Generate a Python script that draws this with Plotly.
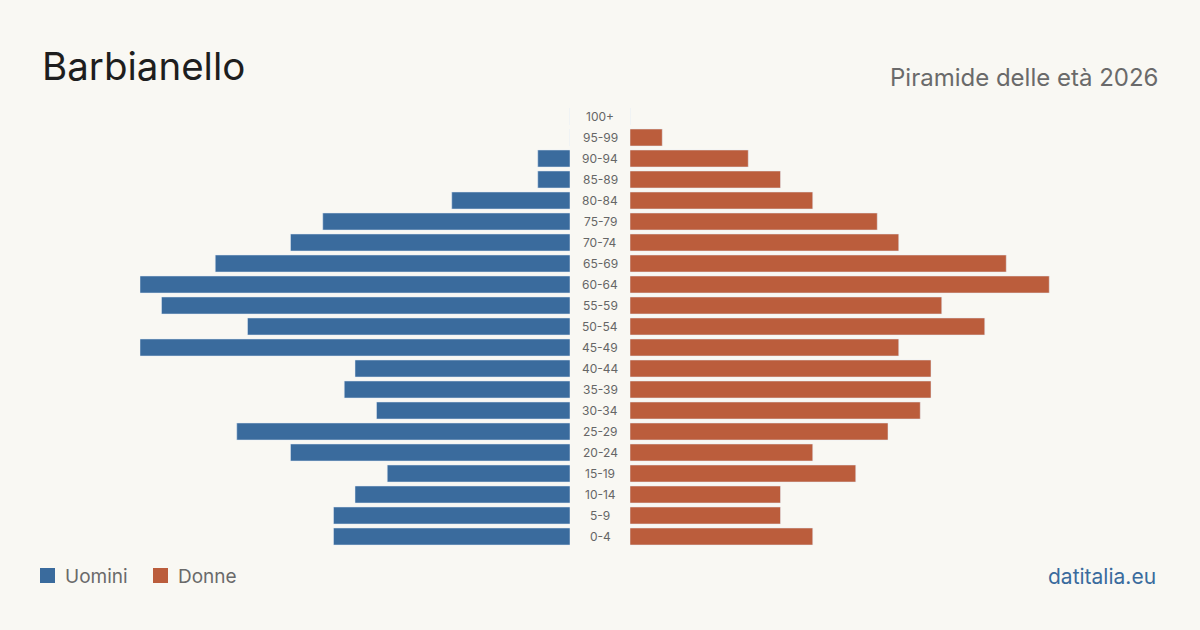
import plotly.graph_objects as go

age_groups = ["0-4", "5-9", "10-14", "15-19", "20-24", "25-29", "30-34", "35-39",
              "40-44", "45-49", "50-54", "55-59", "60-64", "65-69", "70-74",
              "75-79", "80-84", "85-89", "90-94", "95-99", "100+"]
uomini = [22, 22, 20, 17, 26, 31, 18, 21, 20, 40, 30, 38, 40, 33, 26, 23, 11, 3, 3, 0, 0]
donne = [17, 14, 14, 21, 17, 24, 27, 28, 28, 25, 33, 29, 39, 35, 25, 23, 17, 14, 11, 3, 0]

BLUE = "#3a6b9d"
ORANGE = "#bb5d3c"
BG = "#f9f8f3"
FONT = "Inter"

W, H = 1200, 630
xmax = 40

fig = go.Figure()
fig.add_trace(go.Bar(y=age_groups, x=uomini, orientation="h", marker_color=BLUE,
                     xaxis="x", yaxis="y", name="Uomini", showlegend=False,
                     hoverinfo="x+y"))
fig.add_trace(go.Bar(y=age_groups, x=donne, orientation="h", marker_color=ORANGE,
                     xaxis="x2", yaxis="y", name="Donne", showlegend=False,
                     hoverinfo="x+y"))

annotations = []
for g in age_groups:
    annotations.append(dict(x=600 / W, y=g, xref="paper", yref="y", text=g,
                            showarrow=False, xanchor="center", yanchor="middle",
                            font=dict(family=FONT, size=12, color="#666666")))

annotations += [
    dict(x=40 / W, y=1 - 66 / H, xref="paper", yref="paper", text="Barbianello",
         showarrow=False, xanchor="left", yanchor="middle",
         font=dict(family=FONT, size=38.5, color="#1e1e1e")),
    dict(x=1160 / W, y=1 - 77 / H, xref="paper", yref="paper", text="Piramide delle età 2026",
         showarrow=False, xanchor="right", yanchor="middle",
         font=dict(family=FONT, size=24, color="#6a6a6a")),
    dict(x=63 / W, y=1 - 576 / H, xref="paper", yref="paper", text="Uomini",
         showarrow=False, xanchor="left", yanchor="middle",
         font=dict(family=FONT, size=19, color="#6a6a6a")),
    dict(x=176 / W, y=1 - 576 / H, xref="paper", yref="paper", text="Donne",
         showarrow=False, xanchor="left", yanchor="middle",
         font=dict(family=FONT, size=19, color="#6a6a6a")),
    dict(x=1158 / W, y=1 - 576 / H, xref="paper", yref="paper", text="datitalia.eu",
         showarrow=False, xanchor="right", yanchor="middle",
         font=dict(family=FONT, size=21, color="#3a6b9d")),
]

shapes = [
    dict(type="rect", xref="paper", yref="paper", x0=40 / W, x1=55 / W,
         y0=1 - 583 / H, y1=1 - 568 / H, fillcolor=BLUE, line_width=0),
    dict(type="rect", xref="paper", yref="paper", x0=153 / W, x1=168 / W,
         y0=1 - 583 / H, y1=1 - 568 / H, fillcolor=ORANGE, line_width=0),
]

fig.update_layout(
    width=W, height=H,
    margin=dict(l=0, r=0, t=0, b=0),
    paper_bgcolor=BG, plot_bgcolor=BG,
    bargap=0.19,
    xaxis=dict(domain=[140 / W, 570 / W], range=[xmax, 0], visible=False, fixedrange=True),
    xaxis2=dict(domain=[630 / W, 1060 / W], range=[0, xmax], visible=False, fixedrange=True),
    yaxis=dict(domain=[1 - 547 / H, 1 - 106 / H], range=[-0.5, 20.5], visible=False,
               categoryorder="array", categoryarray=age_groups, fixedrange=True),
    annotations=annotations,
    shapes=shapes,
)

fig.write_html("out.html")
